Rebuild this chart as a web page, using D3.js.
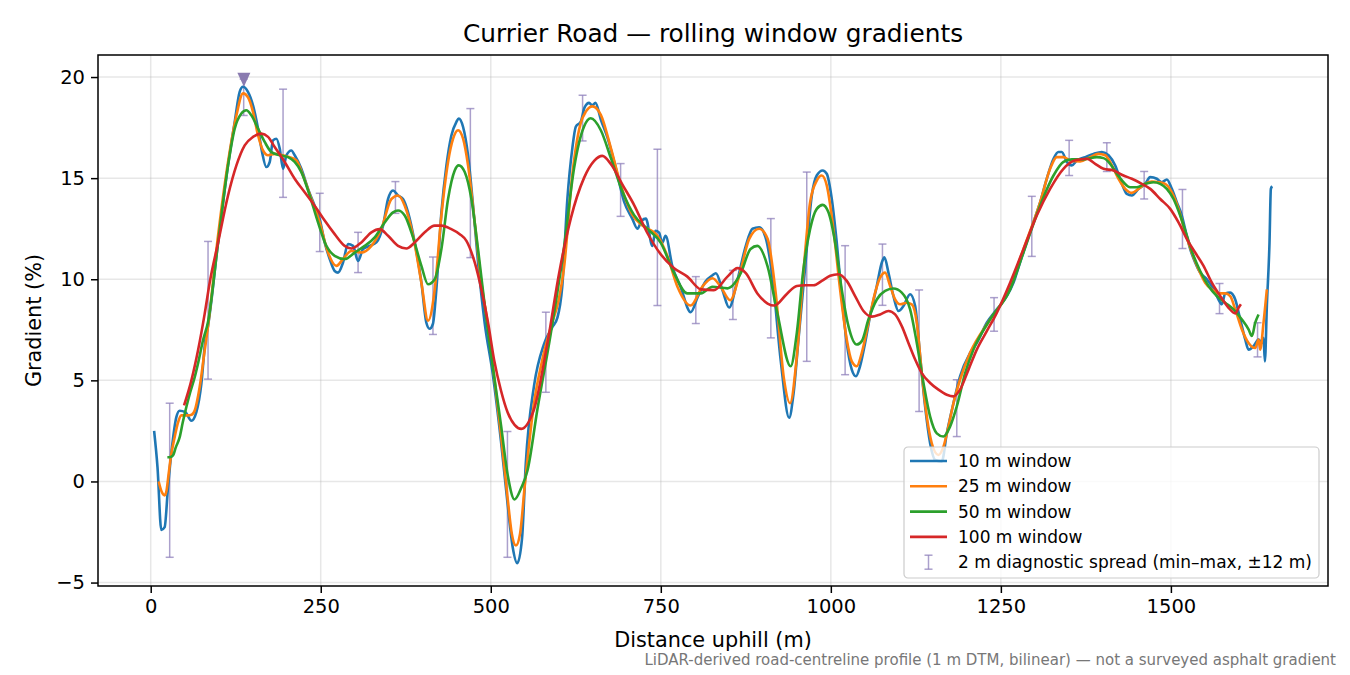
<!DOCTYPE html>
<html>
<head>
  <meta charset="utf-8">
  <title>Currier Road — rolling window gradients</title>
  <script src="https://cdn.jsdelivr.net/npm/d3@7"></script>
  <style>
    body {
      margin: 0;
      background: #fff;
      font-family: "DejaVu Sans", sans-serif;
    }
  </style>
</head>
<body>
  <div id="chart"></div>
  <script>
    // Gradient (%) against distance uphill (m), one array per smoothing window
    const win10 = [[5,2.5],[10,0.7],[15.6,-2.4],[20.5,-2.26],[25.4,-0.3],[31.3,1.7],[37.7,3.18],[42.6,3.5],[50.9,3.43],[59.8,3.0],[67.1,3.43],[74.5,4.84],[80.3,6.98],[84.3,7.7],[99,11.8],[113.7,15.63],[123.5,17.78],[130.8,19.27],[135.7,19.52],[143,19.27],[150.4,18.6],[157.8,17.45],[163.7,16.3],[170,15.55],[175,15.8],[179.8,16.87],[184.8,16.95],[189.7,16.46],[194.6,15.46],[199.5,16.13],[206.8,16.37],[211.7,16.13],[221.5,15.46],[231.3,14.47],[241,13.64],[248.5,12.98],[255.8,11.82],[263.2,11.0],[270.5,10.41],[275.4,10.33],[282.8,10.83],[290.1,11.74],[297.5,11.65],[304.9,10.9],[312.2,11.49],[322,11.65],[331.8,11.82],[341.6,12.65],[349,13.97],[356.3,14.39],[363.7,14.14],[371,13.97],[378.4,13.31],[388.2,11.82],[398,9.83],[405.3,7.85],[410,7.55],[415,7.8],[420,9.5],[427.4,13.3],[434.8,15.63],[442,17.1],[449.5,17.78],[452.9,17.95],[459.3,17.53],[466.6,16.13],[474,13.64],[481.3,10.83],[491,7.85],[503,5.3],[515,2.0],[525,-1.2],[532,-3.2],[539,-4.04],[546,-2.8],[551.5,0.9],[563.7,4.75],[578,6.77],[590,7.6],[598,8.1],[605,9.6],[612.7,14.0],[620,16.5],[625,17.54],[632.4,17.8],[638,18.5],[644.6,18.72],[649,18.6],[654,18.72],[661.8,17.9],[671.6,17.0],[683.8,15.5],[696,13.84],[708,13.0],[715.7,12.5],[722,12.9],[728,13.0],[737.7,11.65],[742,12.4],[747.5,12.3],[752,11.8],[757,12.15],[767,10.64],[779,9.63],[794,8.37],[804,9.1],[816,9.9],[826,10.2],[831,10.3],[840.7,9.46],[850.5,8.6],[862.7,9.97],[875,11.65],[884.8,12.5],[894.6,12.57],[904,12.07],[914,10.13],[926.5,5.93],[938.7,3.15],[945,4.3],[952.4,7.02],[962,10.5],[972,14.14],[979.3,15.13],[988,15.38],[994,15.22],[1001.4,13.97],[1008.7,11.82],[1016,9.17],[1023.4,6.85],[1030.8,5.53],[1037,5.2],[1043,5.7],[1050.4,6.85],[1057.7,8.18],[1067.6,9.67],[1075,10.83],[1078.8,11.08],[1084.7,10.33],[1092,9.17],[1099.4,8.43],[1106.8,8.68],[1116.6,9.26],[1124,8.68],[1131.3,6.19],[1138.6,3.71],[1146,1.89],[1153.4,1.06],[1163.1,0.98],[1170.5,2.38],[1180.3,3.87],[1190,5.2],[1204.8,6.36],[1214.6,6.85],[1229.3,7.85],[1244,8.51],[1258.7,9.17],[1268.5,9.83],[1278.3,10.83],[1288,11.82],[1298,12.81],[1307.7,13.8],[1317.5,14.97],[1327.4,15.96],[1334.7,16.29],[1339.6,16.29],[1347,15.8],[1354.3,15.63],[1361.7,15.88],[1374,16.04],[1386.2,16.2],[1398.5,16.29],[1408.3,16.13],[1418,15.63],[1427.9,14.72],[1435.2,14.22],[1442.6,14.14],[1452.4,14.47],[1462.2,14.72],[1469.6,15.05],[1479.3,14.97],[1486.7,14.8],[1494,14.93],[1501.4,14.47],[1508.8,13.8],[1516.1,13.15],[1521,12.48],[1528.4,11.49],[1535.7,10.83],[1543,10.33],[1552.9,10.0],[1562.7,9.5],[1570,9.0],[1575,8.76],[1579.8,9.3],[1587.2,9.34],[1594.6,9.0],[1602,8.01],[1609.3,7.02],[1614.2,6.52],[1621.5,6.69],[1628.9,7.02],[1633.8,6.85],[1636.2,7.1],[1638.2,5.94],[1641.1,8.68],[1645,11.82],[1647,14.47],[1649,14.6]];

    const win25 = [[11.7,0.0],[16,-0.5],[20.5,-0.69],[23,-0.5],[26.4,0.38],[30,1.3],[35.2,2.19],[40,2.9],[45,3.27],[54.9,3.27],[60,3.3],[64.7,3.51],[72,4.67],[79.4,6.49],[84.3,7.68],[99,12.15],[113.7,15.8],[126,18.1],[135.7,19.19],[143,19.0],[150.4,18.28],[157.8,17.12],[165.1,16.37],[172.5,16.13],[182.3,16.2],[194.6,16.13],[204.4,16.04],[214.2,15.88],[224,15.13],[236.2,13.97],[248.5,12.81],[260.7,11.32],[273,10.66],[282.8,11.0],[295,11.4],[309.7,11.32],[324.5,11.65],[339,12.48],[353.9,13.97],[363.7,14.14],[373.5,13.64],[385.7,12.15],[398,9.83],[407.8,7.95],[417.6,9.5],[427.4,13.14],[437.2,15.8],[444.6,16.95],[451.9,17.37],[459.3,16.95],[466.6,15.63],[476.4,12.81],[486.2,9.83],[496,7.68],[505,5.2],[515,2.3],[525,-0.9],[531,-2.6],[537,-3.17],[543,-2.6],[550,-0.2],[563.7,3.9],[575,5.9],[588,7.6],[600,9.0],[607.8,10.6],[620,15.2],[632,17.7],[640,18.3],[649.5,18.55],[661.8,18.13],[676.5,16.5],[691,14.68],[708,13.2],[723,12.66],[745,12.15],[759.8,11.14],[774.5,9.63],[794,8.7],[811,9.63],[826,10.05],[838,9.63],[852,8.96],[865,10.13],[880,12.0],[894.6,12.5],[907,12.0],[919,9.3],[931,5.1],[940,3.87],[950,6.19],[959.7,10.33],[969.5,13.8],[979.3,14.88],[986.7,15.13],[994,14.64],[1003.8,12.48],[1013.6,9.5],[1023.4,7.02],[1030.8,5.94],[1038.1,5.7],[1045.5,6.36],[1055.3,7.85],[1065.1,9.34],[1072.5,10.08],[1079.8,10.33],[1087.2,9.67],[1094.5,9.0],[1101.9,8.76],[1111.7,8.84],[1119,8.76],[1126.4,7.85],[1133.7,5.36],[1141.1,3.21],[1148.4,1.89],[1158.2,1.31],[1165.6,1.72],[1172.9,2.72],[1180.3,3.87],[1190,5.03],[1204.8,6.36],[1234,8.0],[1258.7,9.26],[1283.2,11.49],[1307.7,13.8],[1322.4,15.46],[1332.2,16.04],[1342,16.04],[1351.9,15.88],[1366.6,15.83],[1381.3,16.04],[1393.6,16.2],[1403.4,16.13],[1413.2,15.63],[1423,14.97],[1432.8,14.47],[1442.6,14.27],[1452.4,14.47],[1462.2,14.72],[1472,14.83],[1481.8,14.8],[1491.6,14.72],[1501.4,14.3],[1511.2,13.48],[1521,12.32],[1530.8,11.32],[1540.6,10.5],[1550.4,9.83],[1560.2,9.5],[1570,9.3],[1579.8,9.3],[1587.2,9.17],[1594.6,8.51],[1604.4,7.52],[1614.2,6.85],[1624,6.6],[1628.9,7.02],[1631.3,6.52],[1636.2,7.85],[1641.1,9.5]];

    const win50 = [[24.5,1.2],[28,1.2],[32.8,1.29],[37,1.7],[42.6,2.19],[47,2.9],[52.4,3.68],[58,4.4],[64.7,5.16],[70,5.9],[76.9,6.98],[84.3,7.9],[99,11.8],[113.7,15.63],[123.5,17.45],[133.3,18.2],[140.6,18.36],[148,18.11],[157.8,17.45],[167.6,16.79],[177.4,16.29],[189.7,16.13],[201.9,16.04],[211.7,15.8],[221.5,15.3],[233.8,14.14],[246,12.81],[258.3,11.65],[270.5,11.16],[285.2,11.0],[300,11.32],[314.7,11.65],[329.4,12.07],[344,12.81],[356.3,13.31],[363.7,13.4],[373.5,13.15],[385.7,12.07],[398,10.66],[407.8,9.75],[417.6,10.0],[427.4,11.49],[437.2,13.97],[447,15.38],[452.9,15.63],[461.7,15.3],[471.5,13.97],[481.3,11.49],[493.6,8.0],[505,5.2],[515,2.8],[525,0.3],[535,-0.89],[545,-0.3],[554,0.54],[568.6,3.57],[588,7.27],[608,11.65],[622.5,15.5],[637,17.54],[647,17.96],[661.8,17.37],[676.5,16.0],[693.6,14.34],[710.8,13.17],[730,12.5],[750,11.8],[769.6,10.3],[789,9.3],[809,9.3],[826,9.63],[848,9.55],[867.6,10.3],[882,11.5],[892,11.65],[907,10.64],[921.6,8.28],[941,5.7],[950,7.35],[959.7,10.5],[969.5,12.48],[979.3,13.48],[988,13.68],[996.5,13.31],[1006.3,11.82],[1016,9.5],[1025.9,7.68],[1038.1,6.77],[1045.5,6.94],[1055.3,8.01],[1067.6,9.0],[1079.8,9.42],[1092,9.54],[1104.3,9.34],[1116.6,8.51],[1126.4,6.85],[1136.2,4.87],[1146,3.21],[1155.8,2.38],[1165.6,2.22],[1175.4,2.72],[1185.2,3.71],[1197.5,5.36],[1209.7,6.52],[1234,8.0],[1263.6,9.5],[1283.2,11.32],[1307.7,13.64],[1327.4,15.13],[1342,15.8],[1354.3,15.93],[1371.5,15.93],[1391.1,16.04],[1401,15.99],[1410.7,15.71],[1420.5,15.22],[1430.3,14.8],[1440.1,14.55],[1449.9,14.55],[1462.2,14.72],[1474.5,14.8],[1484.3,14.72],[1494,14.47],[1503.9,13.97],[1513.7,13.15],[1523.5,12.15],[1533.3,11.16],[1543,10.41],[1555.3,9.67],[1567.6,9.17],[1579.8,8.84],[1592.1,8.51],[1604.4,8.01],[1614.2,7.52],[1619.1,7.19],[1624,7.85],[1628.9,8.26]];

    const win100 = [[49,3.76],[59.8,5.0],[69.6,6.49],[79.4,8.3],[86.7,9.83],[99,11.8],[113.7,14.14],[126,15.63],[138.2,16.62],[150.4,17.04],[162.7,17.2],[172.5,17.04],[182.3,16.54],[197,15.8],[211.7,14.97],[226.4,14.3],[241,13.64],[255.8,12.9],[270.5,12.23],[285.2,11.65],[295,11.52],[309.7,11.82],[324.5,12.32],[336.7,12.48],[349,12.15],[363.7,11.65],[376,11.52],[388.2,11.82],[402.9,12.32],[417.6,12.65],[427.4,12.65],[442,12.48],[454.4,12.23],[464.2,11.9],[476.4,10.83],[486.2,9.5],[496,7.85],[505,6.0],[515,4.5],[525,3.4],[535,2.8],[545,2.6],[555,2.9],[563.7,3.57],[583,6.77],[600.5,10.3],[617.6,13.0],[637,15.0],[652,15.85],[664,16.1],[676.5,15.7],[693.6,14.68],[710.8,13.67],[730,12.3],[750,11.23],[769.6,10.55],[789,10.13],[809,9.5],[828,9.46],[848,10.13],[862.7,10.55],[875,10.3],[892,9.3],[907,8.8],[916.7,8.7],[936,9.3],[950,9.67],[962,9.7],[974.4,9.7],[986.7,9.92],[999,10.17],[1011.2,10.25],[1023.4,9.92],[1035.7,9.17],[1048,8.43],[1060.2,8.15],[1072.5,8.26],[1084.7,8.43],[1094.5,8.26],[1104.3,7.68],[1114.1,6.85],[1124,6.03],[1133.7,5.36],[1146,4.87],[1158.2,4.54],[1170.5,4.29],[1180.3,4.21],[1190,4.54],[1202.4,5.53],[1214.6,6.52],[1229.3,7.43],[1244,8.34],[1263.6,9.83],[1283.2,11.49],[1302.8,13.15],[1322.4,14.47],[1342,15.46],[1359.3,15.88],[1376.4,15.96],[1388.7,15.71],[1401,15.46],[1415.6,15.38],[1430.3,15.13],[1442.6,14.97],[1457.3,14.72],[1469.6,14.47],[1484.3,13.97],[1499,13.48],[1511.2,12.81],[1523.5,11.99],[1535.7,11.32],[1548,10.66],[1560.2,9.83],[1572.5,9.17],[1584.8,8.59],[1594.6,8.31],[1599.5,8.59],[1603,8.76]];

    // 2 m diagnostic spread: [distance, min, max]
    const spread2m = [[27.9,-3.75,3.87],[84.3,5.06,11.87],[136.7,18.1,19.9],[194.6,14.05,19.4],[248.5,11.37,14.25],[304.9,10.33,12.32],[359.8,13.26,14.83],[415,7.27,11.1],[470,11.07,18.44],[524.5,-3.75,2.47],[581,4.41,8.37],[635,16.84,19.1],[690.9,13.11,15.72],[745,8.7,16.43],[801.5,7.81,10.13],[856,8.01,10.44],[911.8,7.1,13.0],[964.6,5.94,15.3],[1021,5.28,11.66],[1075.9,8.71,11.74],[1129.8,3.46,9.47],[1185.2,2.22,5.03],[1240,7.43,9.09],[1295.5,11.13,14.1],[1350.4,15.13,16.87],[1405.8,15.33,16.75],[1460.7,13.97,15.33],[1517,11.52,14.44],[1571.5,8.3,9.79],[1627.4,6.16,7.85]];

    // steepest point marker
    const peakMark = [[137,19.86]];

    const xTicks = [0, 250, 500, 750, 1000, 1250, 1500];
    const yTicks = [-5, 0, 5, 10, 15, 20];
    const seriesNames = ["10 m window", "25 m window", "50 m window", "100 m window"];
    const seriesColors = ["#1f77b4", "#ff7f0e", "#2ca02c", "#d62728"];
    const spreadLabel = "2 m diagnostic spread (min\u2013max, \u00b112 m)";

    const width = 1350, height = 675;
    const plotLeft = 98, plotRight = 1328, plotTop = 55, plotBottom = 586;
    const spreadColor = "#8f80bb";

    const svg = d3.select("#chart")
      .append("svg")
      .attr("width", width)
      .attr("height", height)
      .style("font-family", "'DejaVu Sans', sans-serif");

    const x = d3.scaleLinear().domain([-77.5, 1731]).range([plotLeft, plotRight]);
    const y = d3.scaleLinear().domain([-5.17, 21.09]).range([plotBottom, plotTop]);

    // grid
    svg.append("g").selectAll("line")
      .data(xTicks).enter().append("line")
      .attr("x1", d => x(d)).attr("x2", d => x(d))
      .attr("y1", plotTop).attr("y2", plotBottom)
      .attr("stroke", "#b0b0b0").attr("stroke-opacity", 0.3).attr("stroke-width", 1.5);
    svg.append("g").selectAll("line")
      .data(yTicks).enter().append("line")
      .attr("x1", plotLeft).attr("x2", plotRight)
      .attr("y1", d => y(d)).attr("y2", d => y(d))
      .attr("stroke", "#b0b0b0").attr("stroke-opacity", 0.3).attr("stroke-width", 1.5);

    // error bars for the 2 m spread
    const bars = svg.append("g")
      .attr("stroke", spreadColor)
      .attr("stroke-opacity", 0.75)
      .attr("stroke-width", 1.5);
    bars.selectAll(".stem").data(spread2m).enter().append("line")
      .attr("x1", d => x(d[0])).attr("x2", d => x(d[0]))
      .attr("y1", d => y(d[1])).attr("y2", d => y(d[2]));
    bars.selectAll(".capLo").data(spread2m).enter().append("line")
      .attr("x1", d => x(d[0]) - 4).attr("x2", d => x(d[0]) + 4)
      .attr("y1", d => y(d[1])).attr("y2", d => y(d[1]));
    bars.selectAll(".capHi").data(spread2m).enter().append("line")
      .attr("x1", d => x(d[0]) - 4).attr("x2", d => x(d[0]) + 4)
      .attr("y1", d => y(d[2])).attr("y2", d => y(d[2]));

    // rolling window lines
    const line = d3.line()
      .x(d => x(d[0]))
      .y(d => y(d[1]))
      .curve(d3.curveMonotoneX);

    [win10, win25, win50, win100].forEach((s, i) => {
      svg.append("path")
        .datum(s)
        .attr("d", line)
        .attr("fill", "none")
        .attr("stroke", seriesColors[i])
        .attr("stroke-width", 2.6)
        .attr("stroke-linejoin", "round");
    });

    // peak marker (downward triangle)
    svg.selectAll(".peak").data(peakMark).enter().append("path")
      .attr("d", d => {
        const cx = x(d[0]), cy = y(d[1]);
        return `M${cx - 6.5},${cy - 7}L${cx + 6.5},${cy - 7}L${cx},${cy + 7}Z`;
      })
      .attr("fill", "#8a7bb0");

    // axes
    const xAxis = d3.axisBottom(x).tickValues(xTicks).tickFormat(d => String(d))
      .tickSize(7).tickPadding(6).tickSizeOuter(0);
    const yAxis = d3.axisLeft(y).tickValues(yTicks).tickFormat(d => d < 0 ? "\u2212" + Math.abs(d) : String(d))
      .tickSize(7).tickPadding(6).tickSizeOuter(0);

    const gx = svg.append("g").attr("transform", `translate(0,${plotBottom})`).call(xAxis);
    const gy = svg.append("g").attr("transform", `translate(${plotLeft},0)`).call(yAxis);
    [gx, gy].forEach(g => {
      g.select(".domain").remove();
      g.selectAll(".tick line").attr("stroke", "#000").attr("stroke-width", 1.5);
      g.selectAll(".tick text")
        .attr("fill", "#000")
        .style("font-size", "19.5px")
        .style("font-family", "'DejaVu Sans', sans-serif");
    });

    // frame
    svg.append("rect")
      .attr("x", plotLeft).attr("y", plotTop)
      .attr("width", plotRight - plotLeft).attr("height", plotBottom - plotTop)
      .attr("fill", "none").attr("stroke", "#000").attr("stroke-width", 1.5);

    // legend
    const lg = svg.append("g").attr("transform", "translate(904,447)");
    lg.append("rect")
      .attr("width", 415).attr("height", 131).attr("rx", 4)
      .attr("fill", "#fff").attr("fill-opacity", 0.8)
      .attr("stroke", "#cccccc").attr("stroke-width", 1.2);
    seriesNames.forEach((name, i) => {
      const ry = 14 + i * 25.3;
      lg.append("line")
        .attr("x1", 6).attr("x2", 43).attr("y1", ry).attr("y2", ry)
        .attr("stroke", seriesColors[i]).attr("stroke-width", 2.6);
      lg.append("text")
        .attr("x", 54).attr("y", ry).attr("dy", "0.35em")
        .style("font-size", "17px").attr("fill", "#000")
        .text(name);
    });
    const ry5 = 14 + 4 * 25.3;
    const eh = lg.append("g").attr("stroke", spreadColor).attr("stroke-opacity", 0.75).attr("stroke-width", 1.5);
    eh.append("line").attr("x1", 24.5).attr("x2", 24.5).attr("y1", ry5 - 7).attr("y2", ry5 + 7);
    eh.append("line").attr("x1", 20.5).attr("x2", 28.5).attr("y1", ry5 - 7).attr("y2", ry5 - 7);
    eh.append("line").attr("x1", 20.5).attr("x2", 28.5).attr("y1", ry5 + 7).attr("y2", ry5 + 7);
    lg.append("text")
      .attr("x", 54).attr("y", ry5).attr("dy", "0.35em")
      .style("font-size", "17px").attr("fill", "#000")
      .text(spreadLabel);

    // titles
    svg.append("text")
      .attr("x", (plotLeft + plotRight) / 2).attr("y", 42)
      .attr("text-anchor", "middle")
      .style("font-size", "24.8px").attr("fill", "#000")
      .text("Currier Road \u2014 rolling window gradients");

    svg.append("text")
      .attr("x", (plotLeft + plotRight) / 2).attr("y", 647)
      .attr("text-anchor", "middle")
      .style("font-size", "20.8px").attr("fill", "#000")
      .text("Distance uphill (m)");

    svg.append("text")
      .attr("transform", `translate(41,${(plotTop + plotBottom) / 2}) rotate(-90)`)
      .attr("text-anchor", "middle")
      .style("font-size", "20.8px").attr("fill", "#000")
      .text("Gradient (%)");

    svg.append("text")
      .attr("x", 1336).attr("y", 665)
      .attr("text-anchor", "end")
      .style("font-size", "15px").attr("fill", "#777")
      .text("LiDAR-derived road-centreline profile (1 m DTM, bilinear) \u2014 not a surveyed asphalt gradient");
  </script>
</body>
</html>
